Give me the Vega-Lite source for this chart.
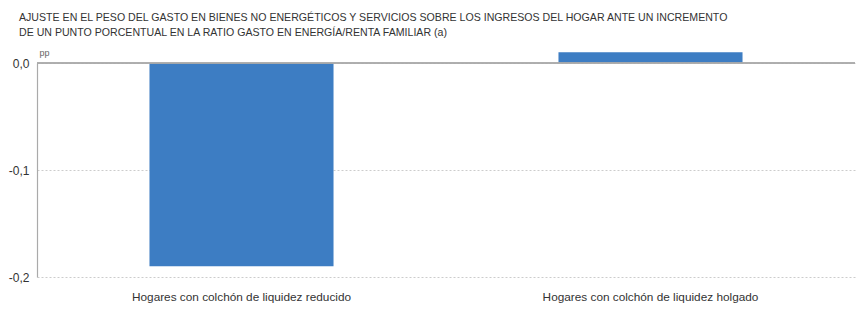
{
  "$schema": "https://vega.github.io/schema/vega-lite/v6.json",
  "autosize": "none",
  "width": 818,
  "height": 214,
  "padding": {"left": 37, "top": 63, "right": 4, "bottom": 39},
  "background": "white",
  "title": {
    "text": ["AJUSTE EN EL PESO DEL GASTO EN BIENES NO ENERGÉTICOS  Y SERVICIOS SOBRE LOS INGRESOS DEL HOGAR ANTE UN INCREMENTO", "DE UN PUNTO PORCENTUAL EN LA RATIO GASTO EN ENERGÍA/RENTA FAMILIAR (a)"],
    "anchor": "start",
    "frame": "group",
    "dx": -18,
    "offset": 9,
    "font": "Liberation Sans",
    "fontSize": 10.6,
    "fontWeight": "normal",
    "color": "#333333",
    "lineHeight": 15
  },
  "data": {
    "values": [
      {"grupo": "Hogares con colchón de liquidez reducido", "valor": -0.19},
      {"grupo": "Hogares con colchón de liquidez holgado", "valor": 0.01}
    ]
  },
  "layer": [
    {
      "mark": {"type": "bar", "color": "#3d7dc3", "clip": false},
      "encoding": {
        "x": {
          "field": "grupo",
          "type": "nominal",
          "sort": null,
          "scale": {"paddingInner": 0.55, "paddingOuter": 0.275},
          "axis": {
            "title": null,
            "labelAngle": 0,
            "domain": false,
            "ticks": false,
            "labelPadding": 14,
            "labelLimit": 400,
            "labelFont": "Liberation Sans",
            "labelFontSize": 11.8,
            "labelColor": "#333333"
          }
        },
        "y": {
          "field": "valor",
          "type": "quantitative",
          "scale": {"domain": [-0.2, 0], "nice": false},
          "axis": {
            "values": [0, -0.1, -0.2],
            "labelExpr": "replace(replace(format(datum.value, '.1f'), '.', ','), '−', '-')",
            "title": "pp",
            "titleAngle": 0,
            "titleAlign": "left",
            "titleBaseline": "bottom",
            "titleX": 2,
            "titleY": -6,
            "titleFont": "Liberation Sans",
            "titleFontSize": 9,
            "titleFontWeight": "normal",
            "titleColor": "#666666",
            "labelFont": "Liberation Sans",
            "labelFontSize": 12,
            "labelColor": "#333333",
            "labelPadding": 8,
            "ticks": false,
            "domainColor": "#aaaaaa",
            "domainWidth": 1.2,
            "gridColor": "#cccccc",
            "gridDash": [2, 2],
            "gridWidth": 1
          }
        }
      }
    },
    {
      "mark": {"type": "rule", "color": "#aaaaaa", "strokeWidth": 1.5},
      "encoding": {"y": {"datum": 0, "type": "quantitative"}}
    }
  ],
  "config": {
    "view": {"stroke": null}
  }
}
